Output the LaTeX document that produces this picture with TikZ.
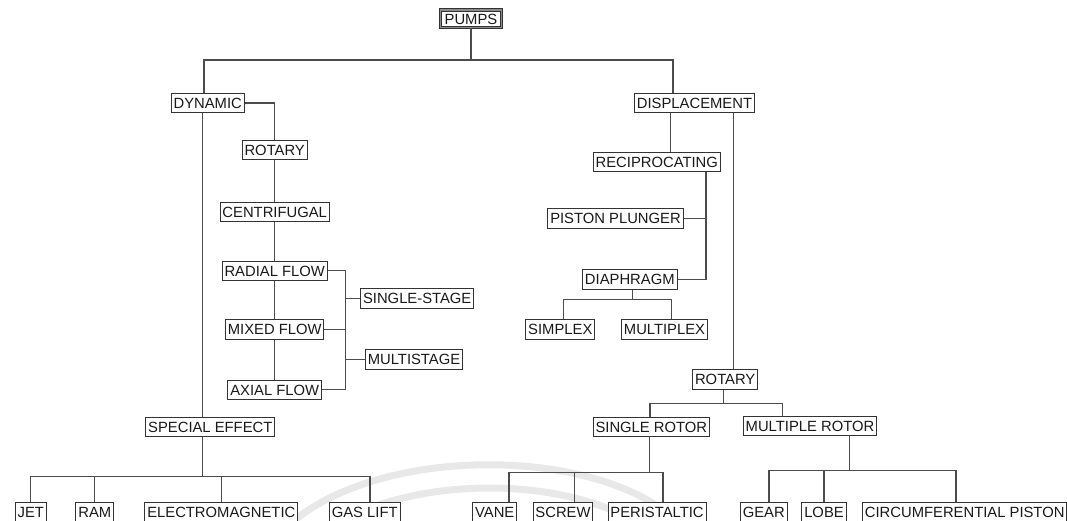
\documentclass[tikz,border=0pt]{standalone}
\usepackage{fontspec}
\setmainfont{Liberation Sans}
\tikzset{
    pbox/.style = {draw=black!80, line width=1pt, fill=white, text=black!90,
        font=\fontsize{14.8}{16}\selectfont, inner xsep=2.4pt, inner ysep=4.4pt,
        text height=10.6pt, text depth=0pt},
    topbox/.style = {pbox, line width=0.9pt, double=black!45, double distance=1.4pt,
        inner xsep=4.4pt, inner ysep=3.5pt},
    link/.style = {draw=black!70, line width=1.2pt},
}
\begin{document}
\begin{tikzpicture}[x=1pt, y=-1pt]
    \useasboundingbox (0,0) rectangle (1067,521);
    \draw [black!9, line width=7pt] (290,524) .. controls (380,445) and (600,445) .. (680,524);
    \draw [black!9, line width=7pt] (335,524) .. controls (420,476) and (560,476) .. (640,524);

    \node (pumps) [topbox] at (471,18.8) {PUMPS};
    \node (dyn) [pbox] at (207.7,103) {DYNAMIC};
    \node (disp) [pbox] at (694.5,103) {DISPLACEMENT};

    \node (rotA) [pbox] at (274.7,150) {ROTARY};
    \node (cent) [pbox] at (274.7,212.3) {CENTRIFUGAL};
    \node (radial) [pbox] at (274.7,270.7) {RADIAL FLOW};
    \node (mixed) [pbox] at (274.7,329.5) {MIXED FLOW};
    \node (axial) [pbox] at (274.7,389.7) {AXIAL FLOW};
    \node (single) [pbox] at (417.2,298.3) {SINGLE-STAGE};
    \node (multi) [pbox] at (414,359.3) {MULTISTAGE};
    \node (spec) [pbox] at (210.3,427.2) {SPECIAL EFFECT};
    \node (jet) [pbox] at (30.8,512.2) {JET};
    \node (ram) [pbox] at (94.8,512.2) {RAM};
    \node (em) [pbox] at (221.3,512.2) {ELECTROMAGNETIC};
    \node (gas) [pbox] at (364.7,512.2) {GAS LIFT};

    \node (recip) [pbox] at (656.8,162.3) {RECIPROCATING};
    \node (piston) [pbox] at (615.5,218.7) {PISTON PLUNGER};
    \node (diaph) [pbox] at (629.8,279.5) {DIAPHRAGM};
    \node (simplex) [pbox] at (560.3,329.3) {SIMPLEX};
    \node (multiplex) [pbox] at (664.5,329.3) {MULTIPLEX};
    \node (rotB) [pbox] at (725.2,379.5) {ROTARY};
    \node (srotor) [pbox] at (651.3,427.2) {SINGLE ROTOR};
    \node (mrotor) [pbox] at (810,426.2) {MULTIPLE ROTOR};
    \node (vane) [pbox] at (494.7,512.5) {VANE};
    \node (screw) [pbox] at (563,512.5) {SCREW};
    \node (peri) [pbox] at (657,512.5) {PERISTALTIC};
    \node (gear) [pbox] at (763.8,512.5) {GEAR};
    \node (lobe) [pbox] at (824,512.5) {LOBE};
    \node (circ) [pbox] at (964.7,512.5) {CIRCUMFERENTIAL PISTON};

    \coordinate (sbus) at (345.3,0);

    \draw [link] (pumps.south) -- ++(0,32) coordinate (j0);
    \draw [link] ([xshift=-3.7]dyn.north) |- (j0) -| ([xshift=-21.5]disp.north);

    \draw [link] (dyn.east) -| (rotA.north);
    \path [link] (rotA) edge (cent)
                 (cent) edge (radial)
                 (radial) edge (mixed)
                 (mixed) edge (axial);
    \draw [link] ([xshift=-5]dyn.south) -- ([xshift=-7.6]spec.north);
    \draw [link] (radial.east) -| (sbus |- axial.east) -- (axial.east);
    \draw [link] (mixed.east) -- (mixed.east -| sbus);
    \draw [link] (single.west) -- (single.west -| sbus);
    \draw [link] (multi.west) -- (multi.west -| sbus);

    \draw [link] ([xshift=-7.6]spec.south) -- ++(0,39.4) coordinate (j1);
    \foreach \n in {jet, ram, em}
        \draw [link] (j1) -| (\n.north);
    \draw [link] (j1) -| ([xshift=5.3]gas.north);

    \draw [link] ([xshift=-23.8]disp.south) -- ([xshift=13.9]recip.north);
    \draw [link] ([xshift=38.8]disp.south) -- ([xshift=8.1]rotB.north);
    \draw [link] ([xshift=49.2]recip.south) coordinate (r1) |- (diaph.east);
    \draw [link] (piston.east) -- (piston.east -| r1);
    \draw [link] ([xshift=2.5]diaph.south) -- ++(0,9.6) coordinate (j2);
    \draw [link] ([xshift=3.4]simplex.north) |- (j2) -| ([xshift=7.2]multiplex.north);

    \draw [link] ([xshift=-1.9]rotB.south) -- ++(0,14) coordinate (j3);
    \draw [link] ([xshift=-1.3]srotor.north) |- (j3) -| ([xshift=-27.3]mrotor.north);
    \draw [link] ([xshift=-2]srotor.south) -- ++(0,34.7) coordinate (j4);
    \draw [link] ([xshift=14.3]vane.north) |- (j4) -| ([xshift=6]peri.north);
    \draw [link] ([xshift=11.3]screw.north) |- (j4);
    \draw [link] ([xshift=39.3]mrotor.south) -- ++(0,33.7) coordinate (j5);
    \draw [link] ([xshift=5.2]gear.north) |- (j5) -| ([xshift=-8.7]circ.north);
    \draw [link] (lobe.north) |- (j5);
\end{tikzpicture}
\end{document}
